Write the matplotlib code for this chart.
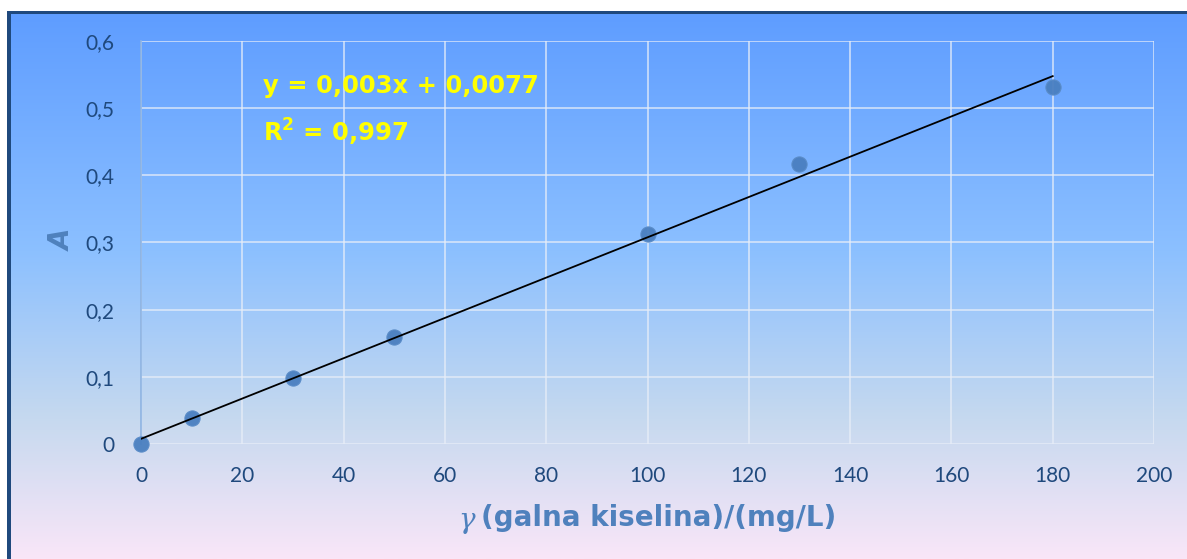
import numpy as np
import matplotlib.pyplot as plt
from matplotlib.colors import LinearSegmentedColormap
from matplotlib.patches import Rectangle

# podaci: koncentracija galne kiseline i apsorbancija
koncentracija = [0, 10, 30, 50, 100, 130, 180]
apsorbancija = [0.0, 0.038, 0.099, 0.159, 0.313, 0.417, 0.531]
nagib = 0.003
odsjecak = 0.0077
x_ticks = [0, 20, 40, 60, 80, 100, 120, 140, 160, 180, 200]
y_ticks = [0, 0.1, 0.2, 0.3, 0.4, 0.5, 0.6]

W, H = 1187, 559
fig = plt.figure(figsize=(W / 100, H / 100), dpi=100)

# pozadina s gradijentom
bg = fig.add_axes([0, 0, 1, 1], zorder=0)
cmap = LinearSegmentedColormap.from_list(
    "bg", [(0, "#5c9bff"), (0.45, "#8cc0ff"), (0.75, "#c6d9ef"), (1, "#f9e6f8")])
grad = np.linspace(0, 1, 256).reshape(-1, 1)
bg.imshow(grad, aspect="auto", cmap=cmap, extent=[0, 1, 0, 1], origin="upper")
bg.set_xlim(0, 1)
bg.set_ylim(0, 1)
bg.axis("off")
# bijeli rub gore i lijevo, tamnoplavi okvir
bg.add_patch(Rectangle((0, 1 - 11 / H), 1, 11 / H, color="white", lw=0))
bg.add_patch(Rectangle((0, 0), 7 / W, 1, color="white", lw=0))
bg.add_patch(Rectangle((7 / W, 0), 4 / W, 1 - 11 / H, color="#1f497d", lw=0))
bg.add_patch(Rectangle((7 / W, 1 - 14 / H), 1, 3 / H, color="#1f497d", lw=0))

x0, x1 = 141 / W, 1154 / W
y0, y1 = 1 - 444 / H, 1 - 41 / H
ax = fig.add_axes([x0, y0, x1 - x0, y1 - y0], zorder=1)
ax.patch.set_alpha(0)

ax.set_xlim(0, 200)
ax.set_ylim(0, 0.6)
ax.set_xticks(x_ticks)
ax.set_yticks(y_ticks)
ax.set_xticklabels([str(t) for t in x_ticks])
ax.set_yticklabels([("%g" % t).replace(".", ",") for t in y_ticks])
ax.tick_params(length=0, labelsize=15, colors="#1f497d", pad=16)
ax.tick_params(axis="y", pad=19)
for lbl in ax.get_xticklabels() + ax.get_yticklabels():
    lbl.set_family("Lato")
ax.grid(True, color="#e8eef8", lw=1.2, alpha=0.8)
ax.set_axisbelow(True)
for s in ["top", "right", "bottom"]:
    ax.spines[s].set_visible(False)
ax.spines["left"].set_color("#8db3e2")
ax.spines["left"].set_linewidth(1.2)

ax.scatter(koncentracija, apsorbancija, s=120, color="#4a7fc0",
           edgecolors="#5a8cc8", linewidths=0.8, zorder=3, alpha=0.95,
           clip_on=False)
xl = np.array([0, 180])
ax.plot(xl, nagib * xl + odsjecak, color="black", lw=1.3, zorder=4)

ax.text(122 / 1013, 1 - 45 / 403, "y = 0,003x + 0,0077", transform=ax.transAxes,
        color="#ffff00", fontsize=17.5, fontweight="bold", va="center")
ax.text(122 / 1013, 1 - 91 / 403, r"R$^\mathbf{2}$ = 0,997", transform=ax.transAxes,
        color="#ffff00", fontsize=17.5, fontweight="bold", va="center")

fig.text(63 / W, 1 - 240 / H, "A", rotation=90, color="#4f81bd", fontsize=20,
         fontweight="bold", fontstyle="italic", ha="center", va="center")
fig.text(467 / W, 1 - 521 / H, "γ", color="#4f81bd", fontsize=20,
         family="DejaVu Serif", fontstyle="italic", ha="center", va="center")
fig.text(481 / W, 1 - 518 / H, "(galna kiselina)/(mg/L)", color="#4f81bd",
         fontsize=20, fontweight="bold", ha="left", va="center")

fig.savefig("out.png", dpi=100)
